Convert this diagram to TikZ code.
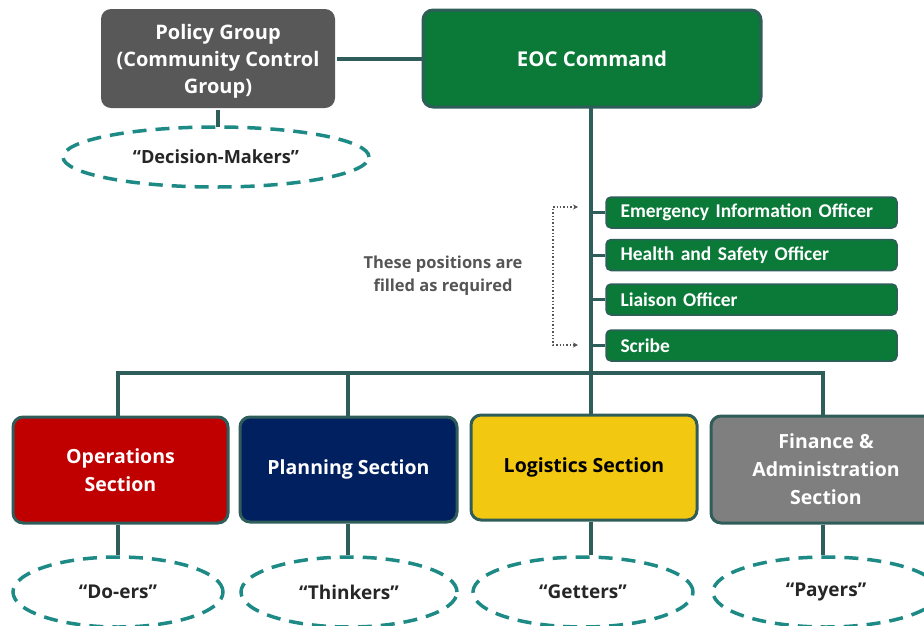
\documentclass[tikz,border=0pt]{standalone}
\usepackage{fontspec}
\setmainfont{Open Sans}
\newfontfamily\calib{Carlito}
\usetikzlibrary{shapes.geometric,arrows.meta}

\definecolor{linec}{HTML}{2E5D5A}
\definecolor{eocgreen}{HTML}{0B7A38}
\definecolor{policygray}{HTML}{585858}
\definecolor{opsred}{HTML}{C00000}
\definecolor{plannavy}{HTML}{002060}
\definecolor{logyellow}{HTML}{F2C811}
\definecolor{fingray}{HTML}{7F7F7F}
\definecolor{dashteal}{HTML}{1E8A85}
\definecolor{notegray}{HTML}{555555}

\tikzset{
  box/.style={rounded corners=10pt, draw=linec, line width=3pt, align=center,
              text=white, font=\bfseries\fontsize{19.5}{28}\selectfont, inner sep=0pt},
  officer/.style={rounded corners=5pt, draw=linec, line width=1.5pt, fill=eocgreen,
              minimum width=291pt, minimum height=31pt, text=white,
              font=\calib\bfseries\fontsize{19.5}{21}\selectfont,
              text width=262pt, align=left, inner sep=0pt},
  role/.style={ellipse, draw=dashteal, line width=3.5pt, dash pattern=on 14pt off 9pt,
              font=\bfseries\fontsize{19}{22}\selectfont, text=black!85, inner sep=0pt},
  conn/.style={draw=linec, line width=4pt},
}

\begin{document}
\begin{tikzpicture}[x=1pt,y=-1pt]
  \useasboundingbox (0,0) rectangle (924,625);
  \clip (0,0) rectangle (924,625);

  % command level
  \node[box, fill=policygray, draw=none, minimum width=234pt, minimum height=99pt,
        label={[yshift=-3pt, text=white, align=center,
                font=\bfseries\fontsize{20}{27}\selectfont]center:Policy Group\\(Community Control\\Group)}]
    (policy) at (218,58.5) {};
  \node[box, fill=eocgreen, minimum width=338pt, minimum height=97pt,
        font=\bfseries\fontsize{20.4}{22}\selectfont] (eoc) at (592,58.5)
    {EOC Command};
  \node[role, minimum width=306pt, minimum height=60pt,
        font=\bfseries\fontsize{18.2}{20}\selectfont] (dm) at (216,157)
    {“Decision-Makers”};

  \draw[conn] (policy.east) -- (eoc.west);
  \draw[conn] (policy.south) -- ++(0,17);

  % officers
  \node[officer] (eio)  at (751.5,212.5) {Emergency Information Officer};
  \node[officer] (hso)  at (751.5,255)   {Health and Safety Officer};
  \node[officer] (lo)   at (751.5,299.5) {Liaison Officer};
  \node[officer] (scr)  at (751.5,345.5) {Scribe};

  \coordinate (bus) at (591,373);
  \coordinate (trunktop) at (591,107);
  \draw[conn] (trunktop) -- (bus);
  \foreach \o in {eio,hso,lo,scr}
    \draw[conn, line width=3pt] (bus |- \o.west) -- (\o.west);

  % note with dotted bracket
  \node[text=notegray, font=\bfseries\fontsize{16.5}{23}\selectfont, align=center] (note) at (443,276)
    {These positions are\\filled as required};
  \coordinate (brtop) at (578,207);
  \coordinate (brbot) at (578,345);
  \draw[notegray, line width=1.4pt, dotted, {Stealth[length=5pt,width=5pt]}-{Stealth[length=5pt,width=5pt]}]
    (brtop) -- (553,207) -- (553,345) -- (brbot);

  % sections
  \node[box, fill=opsred,    minimum width=215pt, minimum height=106pt] (ops)  at (120.5,470) {Operations\\Section};
  \node[box, fill=plannavy,  minimum width=217pt, minimum height=105pt] (plan) at (348.5,469.5) {Planning Section};
  \node[box, fill=logyellow, text=black, minimum width=226pt, minimum height=105pt] (log) at (584,467.5) {Logistics Section};
  \node[box, fill=fingray,   minimum width=230pt, minimum height=107pt] (fin)  at (826,469.5) {Finance \&\\Administration\\Section};

  \coordinate (opsTop) at (118,417);
  \coordinate (planTop) at (348,417);
  \coordinate (logTop) at (591,415);
  \coordinate (finTop) at (823,416);
  \draw[conn] (opsTop) |- (bus) -| (finTop);
  \draw[conn] (planTop) -- (planTop |- bus);
  \draw[conn] (logTop) -- (bus);

  % roles
  \node[role, minimum width=210pt, minimum height=70pt] (doers)    at (118,592) {“Do-ers”};
  \node[role, minimum width=216pt, minimum height=70pt] (thinkers) at (349,592) {“Thinkers”};
  \node[role, minimum width=220pt, minimum height=70pt] (getters)  at (583,592) {“Getters”};
  \node[role, minimum width=226pt, minimum height=70pt] (payers)   at (826,592) {“Payers”};

  \draw[conn] (ops.south -| opsTop) -- (doers.north -| opsTop);
  \draw[conn] (plan.south -| planTop) -- (thinkers.north -| planTop);
  \draw[conn] (log.south -| logTop) -- (getters.north -| logTop);
  \draw[conn] (fin.south -| finTop) -- (payers.north -| finTop);
\end{tikzpicture}
\end{document}
